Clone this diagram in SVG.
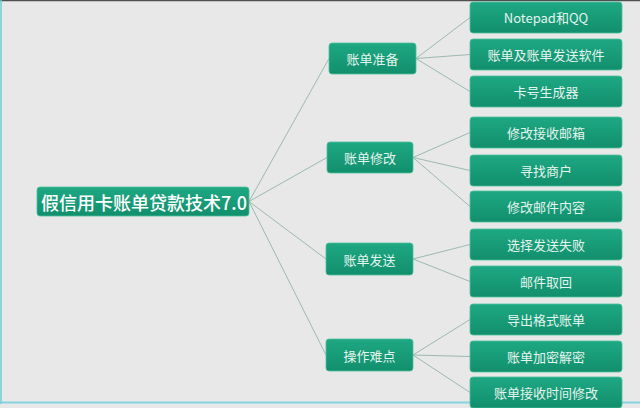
<svg xmlns="http://www.w3.org/2000/svg" width="640" height="408" viewBox="0 0 640 408">
<defs>
<linearGradient id="g" x1="0" y1="0" x2="0" y2="1">
<stop offset="0" stop-color="#1ea883"/>
<stop offset="1" stop-color="#128f6d"/>
</linearGradient>
<style>
.n rect{fill:url(#g);stroke:#4cc09c;stroke-width:0.8}
.n text{fill:#e4f4ee;font-family:"Noto Sans CJK SC","Liberation Sans",sans-serif;font-size:13px;text-anchor:middle;dominant-baseline:central}
.root text{fill:#ffffff;font-size:18px;font-weight:500}
.c line{stroke:#9db9b1;stroke-width:1}
</style>
</defs>
<rect width="640" height="408" fill="#e8e8e8"/>
<line x1="0" y1="0.5" x2="640" y2="0.5" stroke="#505050" stroke-width="1.5"/>
<line x1="1" y1="0" x2="1" y2="404" stroke="#6ccfd6" stroke-width="1.5"/>
<line x1="0" y1="402.5" x2="640" y2="402.5" stroke="#86d3e0" stroke-width="2"/>
<g class="c">
<line x1="249" y1="201.5" x2="329" y2="58.5"/>
<line x1="249" y1="201.5" x2="327" y2="157.5"/>
<line x1="249" y1="201.5" x2="326" y2="259"/>
<line x1="249" y1="201.5" x2="326" y2="355"/>
<line x1="416" y1="58.5" x2="470" y2="17.5"/>
<line x1="416" y1="58.5" x2="470" y2="54.5"/>
<line x1="416" y1="58.5" x2="470" y2="91.5"/>
<line x1="413" y1="157.5" x2="470" y2="132.5"/>
<line x1="413" y1="157.5" x2="470" y2="170.5"/>
<line x1="413" y1="157.5" x2="470" y2="206.5"/>
<line x1="413" y1="259" x2="470" y2="244.5"/>
<line x1="413" y1="259" x2="470" y2="281.5"/>
<line x1="413" y1="355" x2="470" y2="319.5"/>
<line x1="413" y1="355" x2="470" y2="356.5"/>
<line x1="413" y1="355" x2="470" y2="392.5"/>
</g>
<g id="root" class="n root"><rect x="37" y="187" width="212" height="29" rx="3"/><text x="144" y="201.5">假信用卡账单贷款技术7.0</text></g>
<g id="n1" class="n"><rect x="329" y="43" width="87" height="31" rx="3"/><text x="372.5" y="58.5">账单准备</text></g>
<g id="n2" class="n"><rect x="327" y="142" width="86" height="31" rx="3"/><text x="370" y="157.5">账单修改</text></g>
<g id="n3" class="n"><rect x="326" y="243" width="87" height="32" rx="3"/><text x="369.5" y="259">账单发送</text></g>
<g id="n4" class="n"><rect x="326" y="339" width="87" height="32" rx="3"/><text x="369.5" y="355">操作难点</text></g>
<g id="n1a" class="n"><rect x="470" y="2" width="152" height="31" rx="3"/><text x="546" y="17.5">Notepad和QQ</text></g>
<g id="n1b" class="n"><rect x="470" y="39" width="152" height="31" rx="3"/><text x="546" y="54.5">账单及账单发送软件</text></g>
<g id="n1c" class="n"><rect x="470" y="76" width="152" height="31" rx="3"/><text x="546" y="91.5">卡号生成器</text></g>
<g id="n2a" class="n"><rect x="470" y="117" width="152" height="31" rx="3"/><text x="546" y="132.5">修改接收邮箱</text></g>
<g id="n2b" class="n"><rect x="470" y="155" width="152" height="31" rx="3"/><text x="546" y="170.5">寻找商户</text></g>
<g id="n2c" class="n"><rect x="470" y="191" width="152" height="31" rx="3"/><text x="546" y="206.5">修改邮件内容</text></g>
<g id="n3a" class="n"><rect x="470" y="229" width="152" height="31" rx="3"/><text x="546" y="244.5">选择发送失败</text></g>
<g id="n3b" class="n"><rect x="470" y="266" width="152" height="31" rx="3"/><text x="546" y="281.5">邮件取回</text></g>
<g id="n4a" class="n"><rect x="470" y="304" width="152" height="31" rx="3"/><text x="546" y="319.5">导出格式账单</text></g>
<g id="n4b" class="n"><rect x="470" y="341" width="152" height="31" rx="3"/><text x="546" y="356.5">账单加密解密</text></g>
<g id="n4c" class="n"><rect x="470" y="377" width="152" height="31" rx="3"/><text x="546" y="392.5">账单接收时间修改</text></g>
</svg>
